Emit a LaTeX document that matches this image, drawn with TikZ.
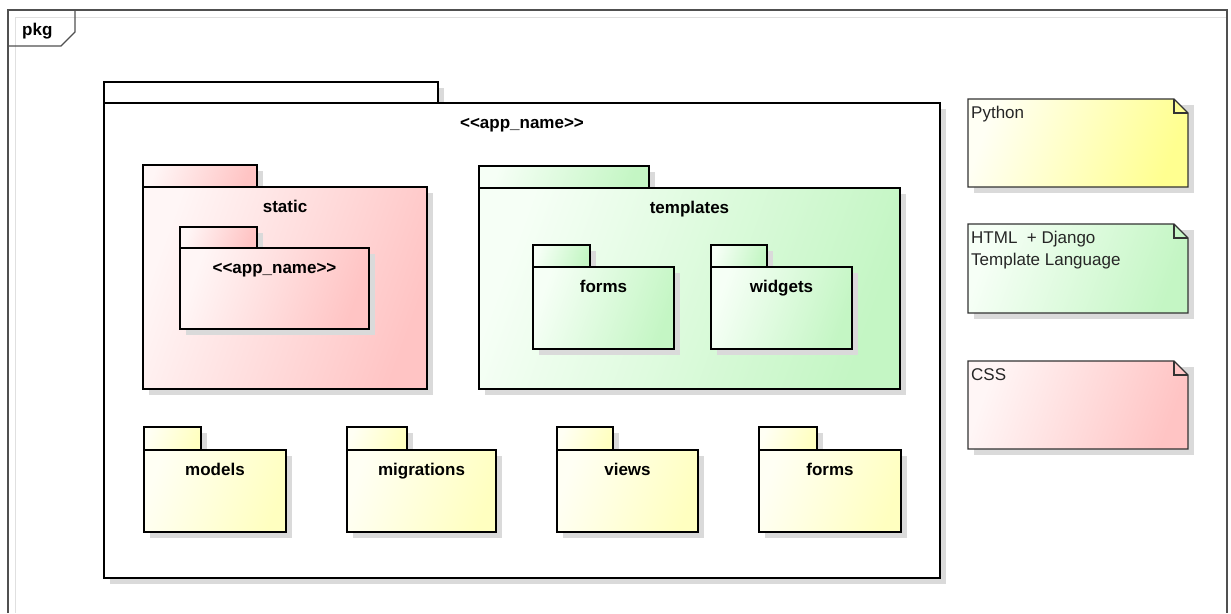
\documentclass[tikz,border=0pt]{standalone}
\usepackage{fontspec}
\setmainfont{Liberation Sans}[Ligatures=TeXOff]
\definecolor{pinkA}{HTML}{FFF6F6}
\definecolor{pinkB}{HTML}{FFC4C4}
\definecolor{greenA}{HTML}{F6FFF6}
\definecolor{greenB}{HTML}{C4F6C4}
\definecolor{yelA}{HTML}{FFFFF4}
\definecolor{yelB}{HTML}{FFFFC0}
\definecolor{noteyel}{HTML}{FFFF90}
\definecolor{shadowgray}{HTML}{DADADA}
\definecolor{framegray}{HTML}{505050}
\tikzset{
  pkgline/.style={line width=2.6pt, draw=black},
  shadowfill/.style={fill=shadowgray},
  pkgtext/.style={font=\bfseries\fontsize{17}{20}\selectfont, inner sep=0pt, anchor=base},
  notetext/.style={font=\fontsize{17}{22}\selectfont, inner sep=0pt, anchor=base west, text=black!85},
  noteline/.style={line width=1.3pt, draw=black!80},
  framesty/.style={line width=1.2pt, draw=framegray},
  pinkfill/.style={left color=pinkA, right color=pinkB, shading angle=70},
  greenfill/.style={left color=greenA, right color=greenB, shading angle=70},
  yelfill/.style={left color=yelA, right color=yelB, shading angle=70},
  whitefill/.style={fill=white},
  pynote/.style={left color=yelA, right color=noteyel, shading angle=70},
  htmlnote/.style={left color=greenA, right color=greenB, shading angle=70},
  cssnote/.style={left color=pinkA, right color=pinkB, shading angle=70},
}
% stereotype-style name with literal angle brackets
\newcommand{\stereoname}[1]{<\kern0pt<#1>\kern0pt>}
% package: name, left, tab top, tab right, body top, right, bottom, fill style, label
\newcommand{\umlpackage}[9]{%
  \fill[shadowfill] (#2+6,#3+6) rectangle (#4+6,#5+6);
  \fill[shadowfill] (#2+6,#5+6) rectangle (#6+6,#7+6);
  \draw[pkgline,#8] (#2,#3) rectangle (#4,#5);
  \draw[pkgline,#8] (#2,#5) rectangle (#6,#7);
  \node[pkgtext] (#1) at ({(#2+#6)/2},#5+25) {#9};
}
% note with folded corner: name, left, top, right, bottom, fill style, text
\newcommand{\umlnote}[7]{%
  \fill[shadowfill] (#2+6,#3+6) rectangle (#4+6,#5+6);
  \draw[noteline,#6] (#2,#3) -- (#4-14,#3) -- (#4,#3+14) -- (#4,#5) -- (#2,#5) -- cycle;
  \draw[noteline] (#4-14,#3) -- (#4-14,#3+14) -- (#4,#3+14);
  \node[notetext] (#1) at (#2+3,#3+19) {\begin{tabular}[t]{@{}l@{}}#7\end{tabular}};
}
\begin{document}
\begin{tikzpicture}[x=1pt,y=-1pt]
\useasboundingbox[fill=white] (0,0) rectangle (1231,613);

% diagram frame and its name tab
\draw[draw=black!12, line width=0.8pt] (15,613) -- (15,17) -- (1227,17);
\draw[framesty] (8,613) -- (8,10) -- (1227,10) -- (1227,613);
\draw[framesty] (8,46) -- (61,46) -- (75,32) -- (75,10);
\node[pkgtext, anchor=base west] (pkg) at (22,35) {pkg};

% enclosing application package
\umlpackage{app}{104}{82}{438}{103}{940}{578}{whitefill}{\stereoname{app\_name}}

% static files
\umlpackage{static}{143}{165}{257}{187}{427}{389}{pinkfill}{static}
\umlpackage{staticapp}{180}{227}{257}{248}{369}{329}{pinkfill}{\stereoname{app\_name}}

% templates
\umlpackage{templates}{479}{166}{649}{188}{900}{389}{greenfill}{templates}
\umlpackage{tplforms}{533}{245}{590}{267}{674}{349}{greenfill}{forms}
\umlpackage{tplwidgets}{711}{245}{767}{267}{852}{349}{greenfill}{widgets}

% python modules
\umlpackage{models}{144}{427}{201}{450}{286}{532}{yelfill}{models}
\umlpackage{migrations}{347}{427}{407}{450}{496}{532}{yelfill}{migrations}
\umlpackage{views}{557}{427}{613}{450}{698}{532}{yelfill}{views}
\umlpackage{forms}{759}{427}{817}{450}{901}{532}{yelfill}{forms}

% legend notes
\umlnote{python}{968}{99}{1188}{187}{pynote}{Python}
\umlnote{html}{968}{224}{1188}{313}{htmlnote}{HTML\ \ + Django\\Template Language}
\umlnote{css}{968}{361}{1188}{449}{cssnote}{CSS}
\end{tikzpicture}
\end{document}
